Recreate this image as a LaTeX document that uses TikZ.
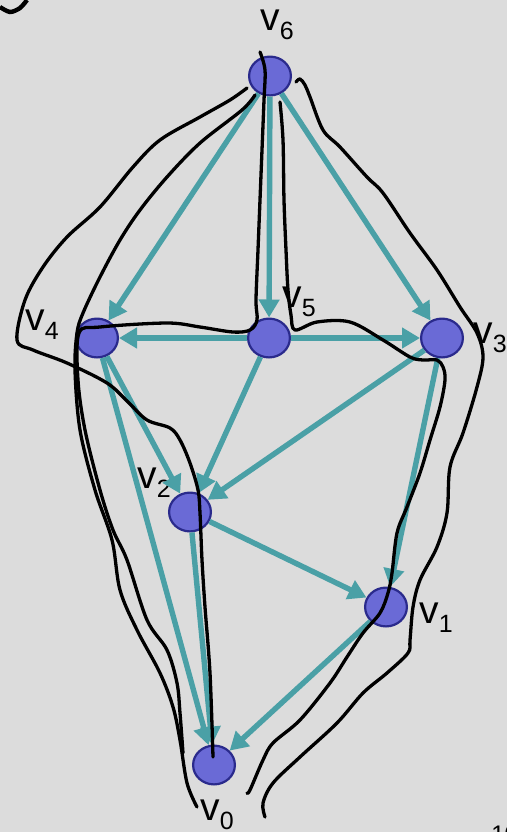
\documentclass[tikz,border=0pt]{standalone}
\usepackage{fontspec}
\setmainfont{Liberation Sans}
\usetikzlibrary{arrows.meta,shapes.geometric}

\definecolor{bggray}{RGB}{220,220,220}
\definecolor{edgeteal}{RGB}{74,160,166}
\definecolor{nodeblue}{RGB}{106,106,214}
\definecolor{nodeline}{RGB}{42,42,140}

% vertex name with its index set low
\newcommand{\vlab}[1]{{\fontsize{19.5}{20}\selectfont v}\raisebox{-4.5pt}{\fontsize{12.5}{13}\selectfont #1}}

\begin{document}
\begin{tikzpicture}[x=0.5pt,y=-0.5pt,
    vertex/.style={ellipse,draw=nodeline,fill=nodeblue,line width=1.1pt,
      minimum width=20.9pt,minimum height=19.4pt,inner sep=0pt},
    vname/.style={anchor=base west,inner sep=0pt},
    dag/.style={draw=edgeteal,line width=2.7pt,-{Triangle[length=9pt,width=10pt]}},
    ink/.style={black,line width=1.65pt,line cap=round,line join=round}]

    % Page
    \useasboundingbox (0,0) rectangle (507,832);
    \clip (0,0) rectangle (507,832);
    \fill[bggray] (0,0) rectangle (507,832);

    % ---- Vertices ----
    \node[vertex] (v6) at (270,76) {};
    \node[vertex] (v5) at (269,338) {};
    \node[vertex] (v4) at (97,338) {};
    \node[vertex] (v3) at (442,338) {};
    \node[vertex] (v2) at (190,512) {};
    \node[vertex] (v1) at (386,607) {};
    \node[vertex] (v0) at (214,765) {};

    % Names
    \node[vname] (l6) at (260,30) {\vlab{6}};
    \node[vname] (l5) at (282,307) {\vlab{5}};
    \node[vname] (l4) at (25,330) {\vlab{4}};
    \node[vname] (l3) at (473,343) {\vlab{3}};
    \node[vname] (l2) at (137,488) {\vlab{2}};
    \node[vname] (l1) at (419,623) {\vlab{1}};
    \node[vname] (l0) at (200,820) {\vlab{0}};

    % ---- Edges ----
    \draw[dag] (v6) -- (v4);
    \draw[dag] (v6) -- (v5);
    \draw[dag] (v6) -- (v3);
    \draw[dag] (v5) -- (v4);
    \draw[dag] (v5) -- (v3);
    \draw[dag] (v5) -- (v2);
    \draw[dag] (v3) -- (v2);
    \draw[dag] (v3) -- (v1);
    \draw[dag] (v4) -- (v2);
    \draw[dag] (v4) -- (v0);
    \draw[dag] (v2) -- (v1);
    \draw[dag] (v2) -- (v0);
    \draw[dag] (v1) -- (v0);

    % ---- Hand-drawn strokes ----
    % outer left loop, ends in v0
    \draw[ink] plot[smooth,tension=0.55] coordinates {(247,88) (230,100) (200,117)
      (160,140) (133,167) (100,207) (67,237) (43,267) (25,300) (17,340) (33,350)
      (67,363) (107,383) (128,402) (147,420) (170,428) (180,440) (190,463)
      (198,490) (200,513) (202,560) (205,607) (210,673) (213,757)};
    % inner left stroke
    \draw[ink] plot[smooth,tension=0.55] coordinates {(255,95) (242,110) (200,143)
      (167,177) (140,210) (120,240) (100,277) (83,313) (77,333) (75,370)
      (80,430) (95,490) (112,540) (120,590) (137,630) (160,673) (173,707)
      (180,740) (187,783) (197,807)};
    % through v6, across to v4, down
    \draw[ink] plot[smooth,tension=0.55] coordinates {(260,52) (265,70) (264,100)
      (262,150) (260,200) (258,250) (256,300) (257,320) (250,330) (233,332)
      (200,327) (167,323) (100,327) (79,333) (78,380) (85,430) (100,490)
      (113,530) (127,560) (147,620) (167,650) (177,683) (180,713) (183,753)};
    % right of v6->v5, over v3, through v1
    \draw[ink] plot[smooth,tension=0.55] coordinates {(280,102) (283,140) (284,200)
      (286,250) (288,290) (291,315) (295,330) (317,322) (350,322) (383,340)
      (410,357) (423,360) (437,360) (443,367) (445,380) (440,407) (430,440)
      (420,473) (407,507) (397,533) (392,573) (388,593) (380,613) (363,633)
      (347,657) (330,683) (300,720) (273,743) (263,760) (250,790) (247,793)};
    % outer right stroke
    \draw[ink] plot[smooth,tension=0.55] coordinates {(296,82) (300,79) (305,85)
      (310,97) (323,130) (340,147) (367,177) (383,193) (410,233) (437,270)
      (460,307) (477,333) (483,357) (477,387) (463,433) (450,467) (447,513)
      (437,547) (420,580) (413,607) (410,640) (408,653) (387,673) (363,693)
      (337,723) (300,757) (273,783) (263,803) (265,817)};

    % ---- Cut-off bits at the edges ----
    \draw[black,line width=2.2pt] plot[smooth] coordinates {(0,7) (10,12) (20,8) (27,0)};
    \node[anchor=north west,inner sep=0pt,font=\fontsize{12}{12}\selectfont] (pg) at (491,825) {10};
\end{tikzpicture}
\end{document}
